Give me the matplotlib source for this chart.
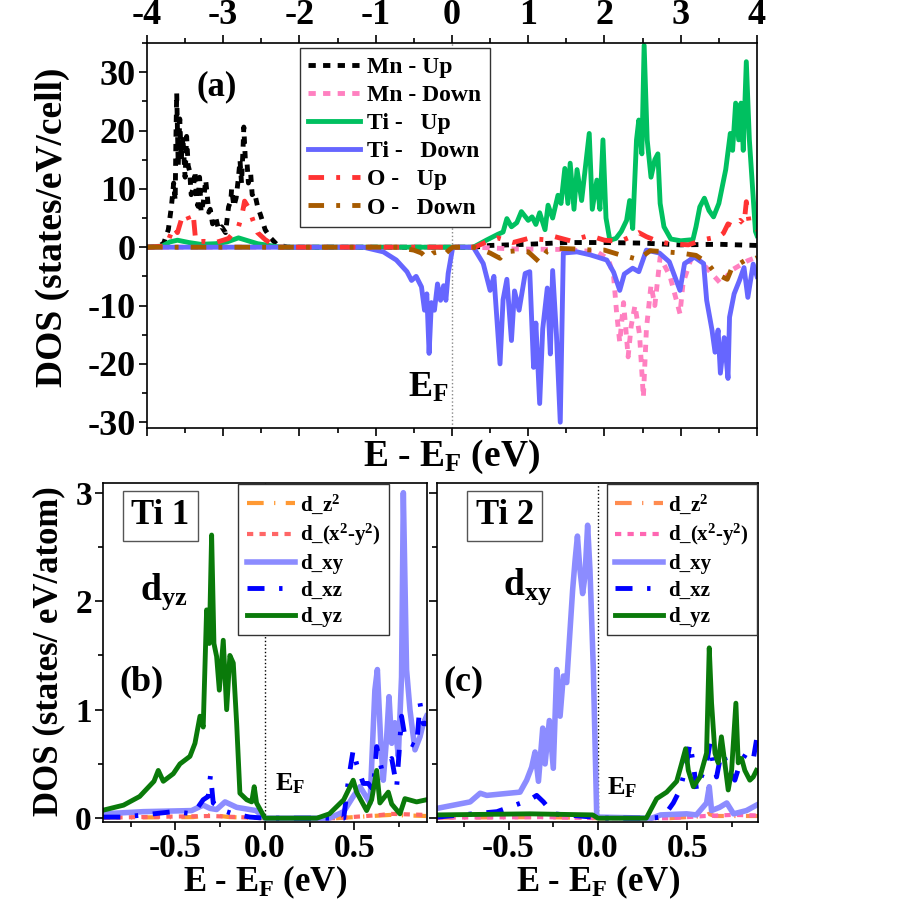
import numpy as np
import matplotlib
matplotlib.use('Agg')
import matplotlib.pyplot as plt
from matplotlib.ticker import MultipleLocator

plt.rcParams['font.family'] = 'Liberation Serif'
plt.rcParams['font.weight'] = 'bold'
plt.rcParams['axes.labelweight'] = 'bold'
plt.rcParams['mathtext.fontset'] = 'custom'
plt.rcParams['mathtext.rm'] = 'Liberation Serif:bold'
plt.rcParams['mathtext.it'] = 'Liberation Serif:bold'
plt.rcParams['mathtext.bf'] = 'Liberation Serif:bold'
plt.rcParams['axes.unicode_minus'] = False

# ---- panel (a): total DOS per species, spin up (+) / spin down (-) ----
mn_up_x = [-4, -3.85, -3.78, -3.72, -3.68, -3.65, -3.63, -3.62, -3.61, -3.6, -3.59, -3.58, -3.57, -3.55,
           -3.53, -3.52, -3.5, -3.48, -3.46, -3.44, -3.42, -3.39, -3.37, -3.35, -3.33, -3.31, -3.29,
           -3.26, -3.23, -3.21, -3.19, -3.17, -3.14, -3.10, -3.06, -3.02, -2.97, -2.93, -2.9, -2.89,
           -2.86, -2.83, -2.8, -2.78, -2.76, -2.74, -2.73, -2.71, -2.69, -2.67, -2.64, -2.62, -2.59,
           -2.55, -2.51, -2.45, -2.38, -2.3, -2.16, 0.3, 0.5, 1.0, 1.5, 2.0, 2.5, 3.0, 3.5, 4.0]
mn_up_y = [0, 0.1, 0.7, 3, 6.9, 11, 8, 19, 26.4, 20, 14, 18, 22, 15,
           19, 16.6, 12, 19, 14, 13, 9, 10.3, 13, 8, 7, 12, 6,
           7.8, 11.5, 9, 6, 6.5, 4, 5.2, 3, 3.5, 2.5, 6.9, 8, 10,
           7, 8.5, 12, 14.9, 11, 17, 20.6, 15, 14.9, 11, 12.6, 9, 9.4,
           7, 5.5, 3.0, 1.6, 0.5, 0, 0, 0.3, 0.5, 0.8, 0.8, 0.7, 0.4, 0.5, 0.3]

mn_dn_x = [-4, 0.3, 0.8, 1.5, 1.9, 2.05, 2.12, 2.16, 2.2, 2.25, 2.28, 2.31, 2.35, 2.4, 2.43, 2.46, 2.51,
           2.55, 2.61, 2.66, 2.73, 2.86, 2.99, 3.03, 3.16, 3.44, 3.53, 3.66, 3.88, 4.0]
mn_dn_y = [0, 0, -0.3, -0.4, -0.8, -2, -5, -11.4, -16.3, -9.5, -14, -18.8, -13.5, -10, -12.5, -15, -25.7,
           -14, -6.5, -10, -1.7, -5, -11.4, -6.2, -1.0, -5, -6.3, -4, -2.3, -1.7]

ti_up_x = [-4, -3.8, -3.7, -3.6, -3.45, -3.3, -3.1, -2.95, -2.8, -2.7, -2.55, -2.4, -2.25, 0.28,
           0.45, 0.6, 0.67, 0.72, 0.78, 0.85, 0.91, 1.0, 1.05, 1.1, 1.15, 1.22, 1.26, 1.32, 1.39,
           1.43, 1.48, 1.52, 1.55, 1.6, 1.64, 1.7, 1.8, 1.84, 1.9, 1.94, 1.98, 2.02, 2.07, 2.15,
           2.22, 2.29, 2.33, 2.37, 2.42, 2.45, 2.49, 2.52, 2.56, 2.61, 2.66, 2.70, 2.73, 2.78,
           2.87, 3.0, 3.16, 3.2, 3.25, 3.31, 3.37, 3.43, 3.5, 3.59, 3.65, 3.68, 3.72, 3.76, 3.79,
           3.82, 3.86, 3.9, 3.93, 3.98, 4.0]
ti_up_y = [0, 0.2, 0.9, 1.2, 0.8, 0.5, 0.6, 0.9, 1.6, 1.2, 0.6, 0.3, 0, 0,
           1.2, 2.2, 2.6, 4.9, 3.5, 4.2, 6.1, 4.6, 5.2, 3.9, 5.9, 3.0, 7.2, 5.0, 8.9,
           7.5, 13.5, 7.5, 14.4, 6.5, 13.3, 8.0, 19.5, 6.5, 11.5, 6.5, 18.4, 5.0, 1.2, 1.5,
           2.7, 4.6, 8.0, 3.2, 18.4, 21.8, 16, 34.6, 18.4, 12, 15, 16, 7.5, 3.5,
           1.4, 1.1, 1.3, 3.5, 6.9, 8.4, 6.3, 5.2, 7.5, 13.3, 19.5, 16.6, 24.7, 18.4, 24.7,
           16.6, 31.8, 18.4, 12.5, 2.7, 2.0]

ti_dn_x = [-4, -1.16, -0.9, -0.73, -0.59, -0.53, -0.47, -0.40, -0.36, -0.33, -0.30, -0.27, -0.23,
           -0.19, -0.15, -0.11, -0.08, -0.05, 0.01, 0.28, 0.41, 0.50, 0.55, 0.63, 0.67, 0.72, 0.78,
           0.82, 0.88, 0.96, 1.02, 1.07, 1.10, 1.15, 1.19, 1.25, 1.29, 1.32, 1.37, 1.42, 1.46, 1.64,
           1.81, 2.03, 2.12, 2.20, 2.26, 2.37, 2.45, 2.55, 2.72, 2.85, 2.99, 3.05, 3.18, 3.30, 3.34,
           3.41, 3.45, 3.49, 3.52, 3.57, 3.62, 3.64, 3.70, 3.77, 3.83, 3.88, 3.95, 4.0]
ti_dn_y = [0, 0, -0.8, -2.2, -4.2, -5.7, -5.0, -6.8, -10.8, -8, -18.2, -9.5, -10.8,
           -6.3, -9.1, -6.6, -9.1, -4.5, 0, 0, -2.8, -7.4, -5, -20.0, -9, -5.5, -16,
           -7.5, -10.8, -4.5, -4.2, -20.6, -13, -26.8, -14, -7, -18.3, -4, -15, -30, -1.0, -0.8,
           -1.3, -2.2, -4.3, -7.4, -4.6, -3.6, -4.2, -0.5, -1.0, -2.5, -7.4, -2.8, -1.7, -2.8, -9.1,
           -14.2, -18, -14.2, -21.6, -15.5, -22.5, -12, -8.0, -5.7, -3.5, -8.6, -2.9, -5]

o_up_x = [-4, -3.75, -3.65, -3.6, -3.55, -3.52, -3.48, -3.44, -3.41, -3.39, -3.36, -3.25, -3.1, -3.0,
          -2.93, -2.86, -2.8, -2.75, -2.72, -2.66, -2.61, -2.55, -2.45, -2.3, 0.3, 0.45, 0.6, 0.8,
          1.0, 1.2, 1.35, 1.55, 1.8, 2.0, 2.2, 2.35, 2.45, 2.55, 2.7, 2.85, 3.1, 3.3, 3.5, 3.56,
          3.62, 3.7, 3.78, 3.83, 3.86, 3.9, 4.0]
o_up_y = [0, 0.2, 3.5, 2.5, 4.7, 5.2, 5.8, 4.5, 5.4, 5.2, 0.9, 1.0, 0.8, 1.2,
          1.5, 2.6, 3.5, 5.8, 7.9, 6.6, 4.6, 2.5, 1.3, 0, 0, 0.9, 1.6, 0.8,
          1.5, 1.3, 1.8, 1.1, 2.0, 1.2, 1.0, 1.8, 2.5, 1.8, 1.0, 0.6, 0.4, 1.3, 1.8, 2.4,
          4.0, 3.5, 4.6, 3.9, 7.8, 4.0, 3.0]

o_dn_x = [-4, -0.7, -0.6, -0.5, -0.4, -0.33, -0.25, -0.17, -0.1, -0.03, 0.01, 0.28, 0.4, 0.5, 0.63,
          0.7, 0.85, 1.0, 1.15, 1.25, 1.4, 1.6, 1.85, 2.0, 2.2, 2.3, 2.44, 2.6, 2.8, 3.0, 3.2,
          3.35, 3.42, 3.5, 3.61, 3.66, 3.75, 3.85, 3.95, 4.0]
o_dn_y = [0, 0, -0.3, -0.5, -1.0, -1.9, -1.0, -0.8, -1.3, -0.4, 0, 0, -0.5, -1.0, -1.9,
          -0.8, -0.6, -0.8, -2.6, -0.6, -0.2, -0.3, -0.5, -0.5, -1.3, -1.6, -2.1, -0.6, -0.8, -1.0, -1.4,
          -2.7, -3.9, -4.8, -5.5, -3.9, -3.0, -2.2, -2.1, -1.8]

# ---- panel (b): Ti 1 d-orbitals ----
b_dz2_x = [-0.9, -0.4, -0.3, -0.2, 0.0, 0.4, 0.6, 0.7, 0.9]
b_dz2_y = [0.005, 0.01, 0.03, 0.01, 0.0, 0.0, 0.02, 0.03, 0.02]
b_dx2_x = [-0.9, -0.3, 0.0, 0.4, 0.65, 0.7, 0.9]
b_dx2_y = [0.005, 0.02, 0.0, 0.0, 0.03, 0.04, 0.03]
b_dxy_x = [-0.903, -0.68, -0.41, -0.345, -0.307, -0.27, -0.223, -0.158, -0.05, 0.0, 0.36, 0.44, 0.493,
           0.531, 0.587, 0.614, 0.628, 0.647, 0.661, 0.68, 0.693, 0.708, 0.726, 0.745, 0.763, 0.773,
           0.791, 0.81, 0.838, 0.866, 0.884, 0.903]
b_dxy_y = [0.04, 0.06, 0.07, 0.12, 0.09, 0.08, 0.15, 0.10, 0.07, 0.0, 0.0, 0.06, 0.20,
           0.29, 0.14, 1.18, 1.37, 0.69, 0.35, 0.75, 1.12, 0.69, 0.88, 0.57, 1.30, 3.0,
           1.37, 1.0, 0.63, 0.75, 0.87, 0.94]
b_dxz_x = [-0.903, -0.79, -0.512, -0.400, -0.345, -0.317, -0.304, -0.289, -0.233, -0.177, -0.084, 0.0,
           0.44, 0.466, 0.493, 0.512, 0.549, 0.577, 0.605, 0.624, 0.652, 0.680, 0.708, 0.736, 0.763,
           0.782, 0.810, 0.847, 0.866, 0.885, 0.903]
b_dxz_y = [0.01, 0.01, 0.06, 0.04, 0.17, 0.20, 0.40, 0.14, 0.07, 0.04, 0.01, 0.0,
           0.0, 0.35, 0.63, 0.50, 0.32, 0.32, 0.26, 0.66, 0.45, 0.51, 0.55, 0.29, 0.94,
           0.75, 0.69, 0.66, 1.06, 0.87, 0.87]
b_dyz_x = [-0.903, -0.79, -0.70, -0.62, -0.596, -0.568, -0.512, -0.475, -0.419, -0.391, -0.363, -0.345,
           -0.326, -0.311, -0.298, -0.285, -0.27, -0.255, -0.233, -0.214, -0.196, -0.177, -0.158, -0.14,
           -0.102, -0.074, -0.06, -0.047, 0.0, 0.29, 0.36, 0.44, 0.493, 0.512, 0.568, 0.596, 0.624,
           0.642, 0.689, 0.708, 0.754, 0.782, 0.847, 0.903]
b_dyz_y = [0.074, 0.12, 0.20, 0.34, 0.44, 0.34, 0.41, 0.50, 0.57, 0.69, 0.94, 0.84,
           1.92, 1.61, 2.61, 1.61, 1.49, 1.18, 1.64, 1.0, 1.50, 1.43, 0.87, 0.23,
           0.17, 0.15, 0.29, 0.14, 0.0, 0.0, 0.04, 0.17, 0.35, 0.24, 0.07, 0.17, 0.44,
           0.14, 0.24, 0.13, 0.04, 0.18, 0.15, 0.17]

# ---- panel (c): Ti 2 d-orbitals ----
c_dz2_x = [-0.9, -0.3, 0.0, 0.4, 0.6, 0.62, 0.65, 0.9]
c_dz2_y = [0.005, 0.01, 0.0, 0.0, 0.02, 0.04, 0.02, 0.02]
c_dx2_x = [-0.9, -0.3, 0.0, 0.4, 0.6, 0.75, 0.9]
c_dx2_y = [0.005, 0.01, 0.0, 0.0, 0.02, 0.03, 0.025]
c_dxy_x = [-0.901, -0.715, -0.659, -0.622, -0.436, -0.399, -0.371, -0.352, -0.333, -0.309, -0.296,
           -0.272, -0.25, -0.231, -0.212, -0.194, -0.175, -0.160, -0.142, -0.128, -0.115, -0.101,
           -0.086, -0.073, -0.058, -0.045, -0.026, -0.007, 0.3, 0.35, 0.495, 0.55, 0.607, 0.622,
           0.635, 0.68, 0.72, 0.758, 0.83, 0.886]
c_dxy_y = [0.09, 0.15, 0.23, 0.21, 0.24, 0.35, 0.47, 0.61, 0.34, 0.83, 0.50,
           0.90, 0.46, 1.37, 0.94, 1.31, 1.25, 1.64, 2.10, 2.38, 2.60, 2.29,
           2.07, 2.23, 2.70, 2.29, 1.37, 0.01, 0.0, 0.03, 0.04, 0.03, 0.14, 0.29,
           0.07, 0.10, 0.14, 0.04, 0.07, 0.12]
c_dxz_x = [-0.9, -0.565, -0.38, -0.343, -0.305, -0.25, -0.03, 0.0, 0.29, 0.365, 0.421, 0.458, 0.495,
           0.514, 0.533, 0.551, 0.57, 0.607, 0.626, 0.644, 0.663, 0.682, 0.70, 0.728, 0.765, 0.793,
           0.83, 0.868, 0.886]
c_dxz_y = [0.01, 0.06, 0.17, 0.21, 0.15, 0.04, 0.01, 0.0, 0.0, 0.01, 0.14, 0.26, 0.50,
           0.69, 0.50, 0.26, 0.35, 0.50, 0.69, 0.50, 0.38, 0.54, 0.60, 0.45, 0.35, 0.50,
           0.60, 0.54, 0.72]
c_dyz_x = [-0.9, -0.38, -0.03, 0.0, 0.27, 0.328, 0.384, 0.44, 0.467, 0.49, 0.505, 0.533, 0.57, 0.607,
           0.622, 0.635, 0.654, 0.672, 0.69, 0.709, 0.728, 0.747, 0.771, 0.784, 0.803, 0.821, 0.849,
           0.868, 0.886]
c_dyz_y = [0.03, 0.04, 0.03, 0.0, 0.0, 0.18, 0.24, 0.34, 0.50, 0.64, 0.44, 0.29, 0.38, 0.60,
           1.57, 1.06, 0.60, 0.51, 0.75, 0.51, 0.26, 0.44, 1.06, 0.51, 0.55, 0.44, 0.35,
           0.38, 0.44]

orb_labels = ['d_z$^2$', 'd_(x$^2$-y$^2$)', 'd_xy', 'd_xz', 'd_yz']


def style_ticks(ax, size):
    ax.tick_params(which='both', direction='out', width=1.2)
    ax.tick_params(which='major', length=6, labelsize=size, pad=2)
    ax.tick_params(which='minor', length=3.5)
    for s in ax.spines.values():
        s.set_linewidth(1.2)


fig = plt.figure(figsize=(9, 9), dpi=100)

# panel (a)
ax = fig.add_axes([0.1633, 0.5244, 0.6778, 0.4278])
ax.axvline(0, color='#888888', lw=1, ls=':', zorder=1)
ax.plot(mn_up_x, mn_up_y, color='black', lw=3.5, dashes=(1.5, 1.5), label='Mn - Up')
ax.plot(mn_dn_x, mn_dn_y, color='#ff80c0', lw=3.5, dashes=(1.5, 1.5), label='Mn - Down')
ax.plot(ti_up_x, ti_up_y, color='#00c060', lw=3.5, label='Ti -   Up')
ax.plot(ti_dn_x, ti_dn_y, color='#6666ff', lw=3.5, label='Ti -   Down')
ax.plot(o_up_x, o_up_y, color='#ff3333', lw=3.5, dashes=(3.2, 2.5, 0.8, 2.5), label='O -   Up')
ax.plot(o_dn_x, o_dn_y, color='#a65a00', lw=3.5, dashes=(3.2, 2.5, 0.8, 2.5), label='O -   Down')
ax.set_xlim(-4, 4)
ax.set_ylim(-31, 35)
ax.xaxis.set_major_locator(MultipleLocator(1))
ax.xaxis.set_minor_locator(MultipleLocator(0.5))
ax.yaxis.set_major_locator(MultipleLocator(10))
ax.yaxis.set_minor_locator(MultipleLocator(5))
style_ticks(ax, 26)
ax.tick_params(axis='x', which='both', top=True, bottom=True, labeltop=True, labelbottom=False)
ax.tick_params(axis='y', which='both', left=True, right=False)
ax.set_xlabel('E - E$_F$ (eV)', fontsize=27, labelpad=1)
leg = ax.legend(loc='upper left', bbox_to_anchor=(0.251, 0.987), borderaxespad=0, fontsize=17,
                handlelength=2.2, handletextpad=0.3, labelspacing=0.28, borderpad=0.35,
                fancybox=False, edgecolor='#333333', framealpha=1)
leg.get_frame().set_linewidth(1)
ax.text(0.082, 0.886, '(a)', transform=ax.transAxes, fontsize=25, ha='left', va='center')
ax.text(-0.58, -25.6, 'E$_F$', fontsize=26, ha='left', va='baseline')

fig.text(0.058, 0.747, 'DOS (states/eV/cell)', rotation=90, fontsize=27, ha='center', va='center')

# panels (b) and (c)
panels = [
    (fig.add_axes([0.1144, 0.0867, 0.36, 0.3767]), (-0.905, 0.905),
     [b_dz2_x, b_dx2_x, b_dxy_x, b_dxz_x, b_dyz_x], [b_dz2_y, b_dx2_y, b_dxy_y, b_dxz_y, b_dyz_y],
     ['#ff9933', '#ff6666'], 'Ti 1', 'd$_{yz}$', '(b)', (0.883, 0.997), (0.088, 0.114, 0.655, 0.052, 0.531, 0.094)),
    (fig.add_axes([0.4856, 0.0867, 0.3567, 0.3767]), (-0.9, 0.895),
     [c_dz2_x, c_dx2_x, c_dxy_x, c_dxz_x, c_dyz_x], [c_dz2_y, c_dx2_y, c_dxy_y, c_dxz_y, c_dyz_y],
     ['#ff8c50', '#ff66b2'], 'Ti 2', 'd$_{xy}$', '(c)', (0.997, 0.997), (0.12, 0.206, 0.670, 0.019, 0.53, 0.08)),
]

for axp, xl, xs, ys, cols, title, orb, tag, lpos, tp in panels:
    axp.axvline(0, color='black', lw=1, ls=':', zorder=1)
    axp.plot(xs[0], ys[0], color=cols[0], lw=3, dashes=(4, 2.5, 0.3, 2.5), label=orb_labels[0])
    axp.plot(xs[1], ys[1], color=cols[1], lw=3, dashes=(1.5, 1.5), label=orb_labels[1])
    axp.plot(xs[2], ys[2], color='#8c8cff', lw=4, label=orb_labels[2])
    axp.plot(xs[3], ys[3], color='#0000ff', lw=3.5, dashes=(3.5, 3, 0.7, 3), label=orb_labels[3])
    axp.plot(xs[4], ys[4], color='#0a7a0a', lw=3.5, label=orb_labels[4])
    axp.set_xlim(*xl)
    axp.set_ylim(-0.035, 3.09)
    axp.xaxis.set_major_locator(MultipleLocator(0.5))
    axp.xaxis.set_minor_locator(MultipleLocator(0.25))
    axp.yaxis.set_major_locator(MultipleLocator(1))
    axp.yaxis.set_minor_locator(MultipleLocator(0.5))
    style_ticks(axp, 24)
    axp.tick_params(axis='y', which='both', right=False)
    axp.set_xlabel('E - E$_F$ (eV)', fontsize=25, labelpad=0)
    lg = axp.legend(loc='upper right', bbox_to_anchor=lpos, borderaxespad=0, fontsize=15,
                    handlelength=2.3, handletextpad=0.25, labelspacing=0.3, borderpad=0.4,
                    fancybox=False, edgecolor='#333333', framealpha=1)
    lg.get_frame().set_linewidth(1)
    axp.text(tp[0], 0.903, title, transform=axp.transAxes, fontsize=25, ha='left', va='center',
             bbox=dict(boxstyle='square,pad=0.25', fc='white', ec='#555555', lw=1))
    axp.text(tp[1], tp[2], orb, transform=axp.transAxes, fontsize=27, ha='left', va='baseline')
    axp.text(tp[3], 0.389, tag, transform=axp.transAxes, fontsize=26, ha='left', va='baseline')
    axp.text(tp[4], tp[5], 'E$_F$', transform=axp.transAxes, fontsize=19, ha='left', va='baseline')

panels[1][0].tick_params(axis='y', labelleft=False)

fig.text(0.054, 0.277, 'DOS (states/ eV/atom)', rotation=90, fontsize=25, ha='center', va='center')

fig.savefig('out.png', dpi=100)
